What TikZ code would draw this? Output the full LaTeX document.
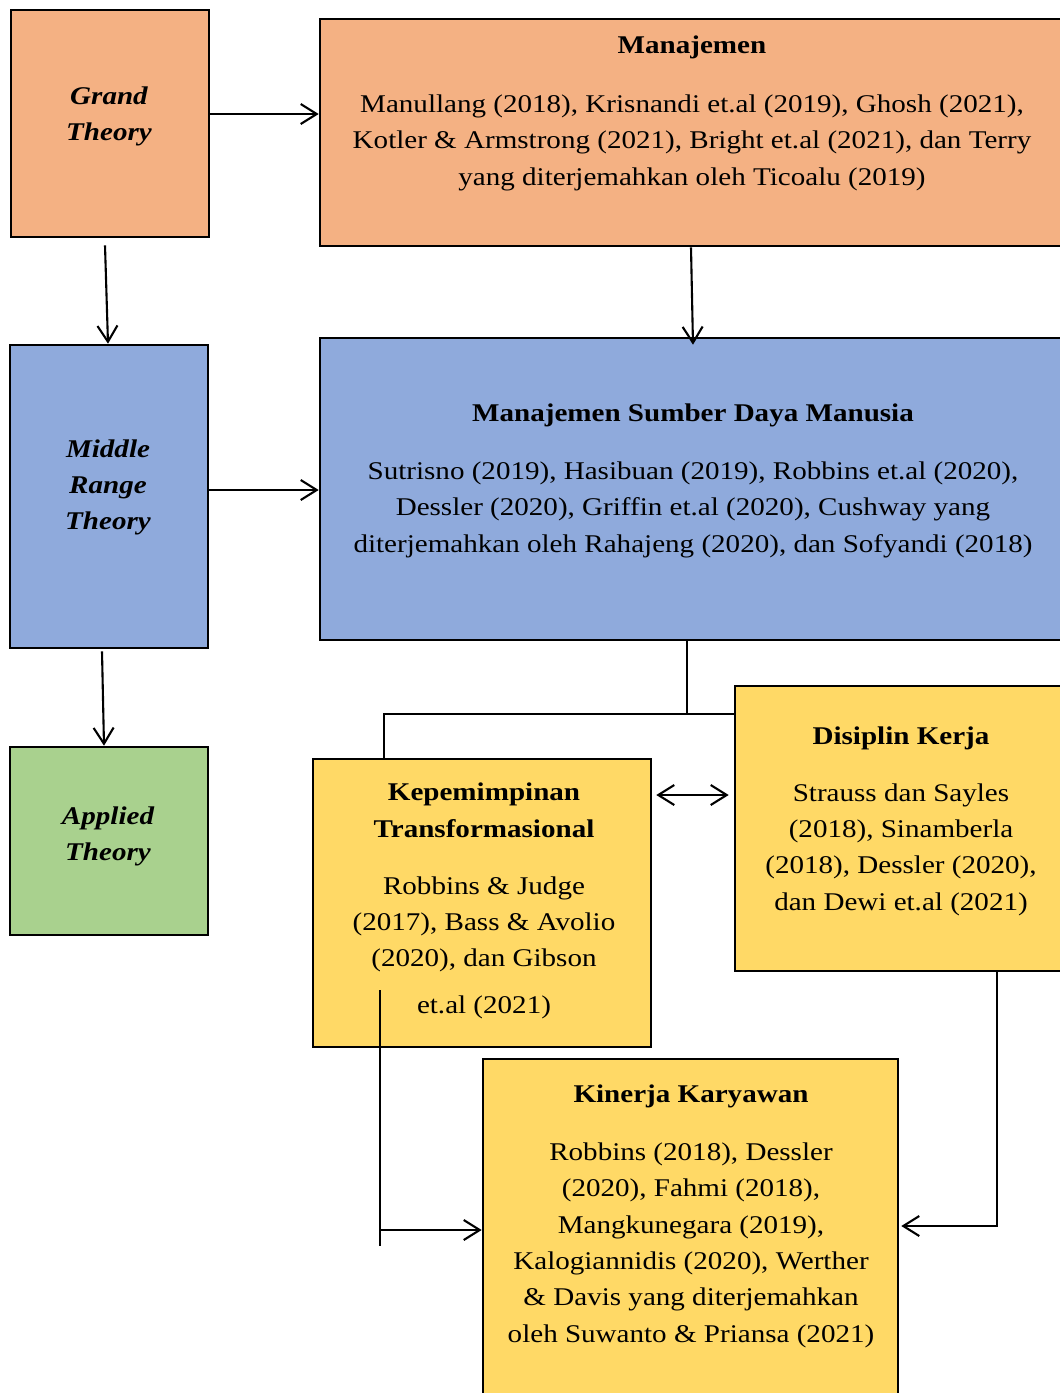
\documentclass[tikz,border=0pt]{standalone}
\usepackage{fontspec}
\setmainfont{Liberation Serif}[FakeStretch=1.14]
\usetikzlibrary{arrows.meta,calc}
\definecolor{csalmon}{HTML}{F4B183}
\definecolor{cblue}{HTML}{8FAADC}
\definecolor{cgreen}{HTML}{A9D18E}
\definecolor{cyellow}{HTML}{FFD966}
\tikzset{
  box/.style={draw=black, line width=2.6pt, rectangle, inner sep=0pt},
  txt/.style={font=\fontsize{25.5}{36.3}\selectfont, align=center, inner sep=0pt, anchor=base},
  ttl/.style={txt, font=\fontsize{25.5}{36.3}\selectfont\bfseries},
  tti/.style={txt, font=\fontsize{25.5}{36}\selectfont\bfseries\itshape},
  conn/.style={line width=2.1pt},
  arr/.style={conn, -{Straight Barb[length=16pt,width=20pt,line width=2.1pt]}},
  darr/.style={conn, {Straight Barb[length=16pt,width=20pt,line width=2.1pt]}-{Straight Barb[length=16pt,width=20pt,line width=2.1pt]}}
}
\begin{document}
\begin{tikzpicture}[x=1pt,y=-1pt]
\useasboundingbox (0,0) rectangle (1060,1393);
\clip (0,0) rectangle (1060,1393);
\fill[white] (0,0) rectangle (1060,1393);
% boxes
\node[box, fill=csalmon, minimum width=198pt, minimum height=227pt] (grand) at (110,123.5) {};
\node[box, fill=csalmon, minimum width=760pt, minimum height=227pt] (manaj) at (700,132.5) {};
\node[box, fill=cblue, minimum width=198pt, minimum height=303pt] (middle) at (109,496.5) {};
\node[box, fill=cblue, minimum width=760pt, minimum height=302pt] (msdm) at (700,489) {};
\node[box, fill=cgreen, minimum width=198pt, minimum height=188pt] (applied) at (109,841) {};
\node[box, fill=cyellow, minimum width=338pt, minimum height=288pt] (kep) at (482,903) {};
\node[box, fill=cyellow, minimum width=345pt, minimum height=285pt] (disiplin) at (907.5,828.5) {};
\node[box, fill=cyellow, minimum width=415pt, minimum height=351pt] (kinerja) at (690.5,1234.5) {};
% texts (base anchor = baseline of the last line)
\node[tti] (tgrand) at (109,140) {Grand\\Theory};
\node[tti] (tmiddle) at (108,529) {Middle\\Range\\Theory};
\node[tti] (tapplied) at (108,860) {Applied\\Theory};
\node[ttl] (tmanaj) at (692,53) {Manajemen};
\node[txt] (bmanaj) at (692,185) {Manullang (2018), Krisnandi et.al (2019), Ghosh (2021),\\Kotler \& Armstrong (2021), Bright et.al (2021), dan Terry\\yang diterjemahkan oleh Ticoalu (2019)};
\node[ttl] (tmsdm) at (693,421) {Manajemen Sumber Daya Manusia};
\node[txt] (bmsdm) at (693,552) {Sutrisno (2019), Hasibuan (2019), Robbins et.al (2020),\\Dessler (2020), Griffin et.al (2020), Cushway yang\\diterjemahkan oleh Rahajeng (2020), dan Sofyandi (2018)};
\node[ttl] (tkep) at (484,837) {Kepemimpinan\\Transformasional};
\node[txt] (bkep) at (484,1013) {Robbins \& Judge\\(2017), Bass \& Avolio\\(2020), dan Gibson\\[10pt]et.al (2021)};
\node[ttl] (tdis) at (901,744) {Disiplin Kerja};
\node[txt] (bdis) at (901,910) {Strauss dan Sayles\\(2018), Sinamberla\\(2018), Dessler (2020),\\dan Dewi et.al (2021)};
\node[ttl] (tkin) at (691,1102) {Kinerja Karyawan};
\node[txt] (bkin) at (691,1342) {Robbins (2018), Dessler\\(2020), Fahmi (2018),\\Mangkunegara (2019),\\Kalogiannidis (2020), Werther\\\& Davis yang diterjemahkan\\oleh Suwanto \& Priansa (2021)};
% connectors
\draw[arr] (grand.east |- 0,114) -- (manaj.west |- 0,114);
\draw[arr] ($(grand.south)+(-5,7)$) -- (middle.north -| 108,0);
\draw[arr] (manaj.south -| 691,0) -- ($(msdm.north -| 693,0)+(0,8)$);
\draw[arr] (middle.east |- 0,490) -- (msdm.west |- 0,490);
\draw[arr] ($(middle.south)+(-7,2)$) -- (applied.north -| 104,0);
\draw[conn] (msdm.south -| 687,0) -- (687,714);
\draw[conn] (kep.north -| 384,0) |- (disiplin.west |- 0,714);
\draw[darr] (kep.east |- 0,795) ++(4,0) -- ($(disiplin.west |- 0,795)+(-5,0)$);
\coordinate (vtop) at (380,990);
\coordinate (vbot) at (380,1246);
\draw[conn] (vtop) -- (vbot);
\draw[arr] (381,1230) -- (kinerja.west |- 0,1230);
\draw[arr] (disiplin.south -| 997,0) |- ($(kinerja.east |- 0,1226)+(2,0)$);
\end{tikzpicture}
\end{document}
